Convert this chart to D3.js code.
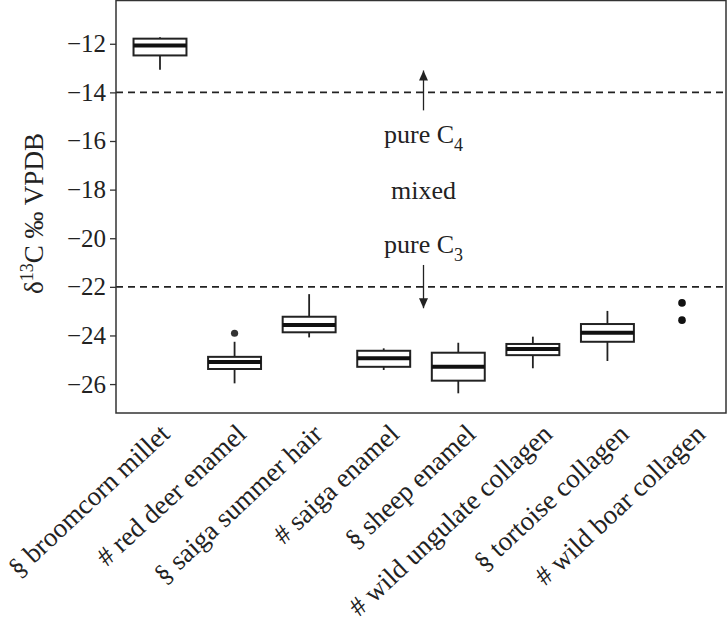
<!DOCTYPE html>
<html><head><meta charset="utf-8">
<script src="https://cdn.jsdelivr.net/npm/d3@7"></script>
<style>
body{margin:0;background:#fff;}
svg{display:block;font-family:"Liberation Serif","Times New Roman",serif;}
</style></head>
<body>
<script>
const categories = ["§ broomcorn millet", "# red deer enamel", "§ saiga summer hair", "# saiga enamel",
  "§ sheep enamel", "# wild ungulate collagen", "§ tortoise collagen", "# wild boar collagen"];
const whiskerLow  = [-13.07, -25.97, -24.08, -25.42, -26.38, -25.35, -25.05, null];
const q1          = [-12.48, -25.38, -23.87, -25.29, -25.86, -24.81, -24.26, null];
const medians     = [-12.07, -25.09, -23.57, -24.94, -25.29, -24.56, -23.89, null];
const q3          = [-11.79, -24.88, -23.23, -24.63, -24.71, -24.35, -23.53, null];
const whiskerHigh = [-11.73, -24.26, -22.30, -24.53, -24.30, -24.05, -22.99, null];
const outliers    = [[], [-23.91], [], [], [], [], [], []];
const points      = [[], [], [], [], [], [], [], [-22.66, -23.37]];
const yTicks = [-12, -14, -16, -18, -20, -22, -24, -26];
const thresholds = [-14, -22];
const annotations = [{t:"pure C", s:"4", v:-16.1}, {t:"mixed", s:"", v:-18.4}, {t:"pure C", s:"3", v:-20.6}];
const arrows = [{from:-14.74, to:-13.1}, {from:-21.1, to:-22.88}];

const W = 727, H = 626;
const mLeft = 116, mRight = 726, mTop = 0.5, mBottom = 413;
const svg = d3.select("body").append("svg").attr("width", W).attr("height", H);

const x = d3.scalePoint().domain(categories).range([mLeft, mRight]).padding(0.59);
const xLab = d3.scalePoint().domain(categories).range([mLeft + 10, mRight + 26]).padding(0.59);
const y = d3.scaleLinear().domain([-27.19, -10.22]).range([mBottom, mTop]);
const bw = x.step() * 0.71;

svg.append("defs").append("marker").attr("id","ah").attr("viewBox","0 0 10 12")
  .attr("refX",10).attr("refY",6).attr("markerWidth",11).attr("markerHeight",12)
  .attr("markerUnits","userSpaceOnUse").attr("orient","auto")
  .append("path").attr("d","M0,1.5 L10,6 L0,10.5 Z").attr("fill","#222");

// thresholds
svg.selectAll(".thr").data(thresholds).join("line")
  .attr("x1", mLeft).attr("x2", mRight).attr("y1", d => y(d)).attr("y2", d => y(d))
  .attr("stroke","#222").attr("stroke-width",1.6).attr("stroke-dasharray","7,5");

// annotations
const ax = (x(categories[3]) + x(categories[4])) / 2 + 2.5;
annotations.forEach(a => {
  const t = svg.append("text").attr("x", ax).attr("y", y(a.v)).attr("text-anchor","middle")
    .attr("font-size",26).attr("fill","#222").text(a.t);
  if (a.s) t.append("tspan").attr("font-size",18).attr("dy",8).text(a.s);
});
svg.selectAll(".arr").data(arrows).join("line")
  .attr("x1", ax).attr("x2", ax).attr("y1", d => y(d.from)).attr("y2", d => y(d.to))
  .attr("stroke","#222").attr("stroke-width",1.3).attr("marker-end","url(#ah)");

// boxes
const idx = d3.range(categories.length).filter(i => medians[i] !== null);
const g = svg.append("g");
idx.forEach(i => {
  const cx = x(categories[i]);
  g.append("line").attr("x1",cx).attr("x2",cx).attr("y1",y(whiskerLow[i])).attr("y2",y(q1[i]))
    .attr("stroke","#222").attr("stroke-width",1.8);
  g.append("line").attr("x1",cx).attr("x2",cx).attr("y1",y(whiskerHigh[i])).attr("y2",y(q3[i]))
    .attr("stroke","#222").attr("stroke-width",1.8);
  g.append("rect").attr("x",cx-bw/2).attr("width",bw).attr("y",y(q3[i])).attr("height",y(q1[i])-y(q3[i]))
    .attr("fill","#fff").attr("stroke","#222").attr("stroke-width",2);
  g.append("line").attr("x1",cx-bw/2).attr("x2",cx+bw/2).attr("y1",y(medians[i])).attr("y2",y(medians[i]))
    .attr("stroke","#111").attr("stroke-width",4);
});
categories.forEach((c,i) => {
  outliers[i].forEach(v => g.append("circle").attr("cx",x(c)).attr("cy",y(v)).attr("r",3.6).attr("fill","#333"));
  points[i].forEach(v => g.append("circle").attr("cx",x(c)).attr("cy",y(v)).attr("r",3.8).attr("fill","#111"));
});

// frame
svg.append("rect").attr("x",mLeft).attr("y",mTop).attr("width",mRight-mLeft).attr("height",mBottom-mTop)
  .attr("fill","none").attr("stroke","#333").attr("stroke-width",1.5);

// y axis
const yAxis = svg.append("g").attr("transform",`translate(${mLeft},0)`)
  .call(d3.axisLeft(y).tickValues(yTicks).tickSize(6).tickPadding(4));
yAxis.attr("font-family","Liberation Serif").attr("font-size",25);
yAxis.select(".domain").remove();
yAxis.selectAll("line").attr("stroke","#333").attr("stroke-width",1.3);
yAxis.selectAll("text").attr("fill","#222");

// y title
const yt = svg.append("text").attr("transform",`translate(43,${(130+297)/2}) rotate(-90)`)
  .attr("text-anchor","middle").attr("font-size",27).attr("fill","#222");
yt.append("tspan").text("δ");
yt.append("tspan").attr("font-size",18).attr("dy",-10).text("13");
yt.append("tspan").attr("dy",10).text("C ‰ VPDB");

// x labels
svg.selectAll(".xl").data(categories).join("text")
  .attr("transform", d => `translate(${xLab(d)},436) rotate(-43)`)
  .attr("text-anchor","end").attr("font-size",27).attr("fill","#222").text(d => d);
</script>
</body></html>
